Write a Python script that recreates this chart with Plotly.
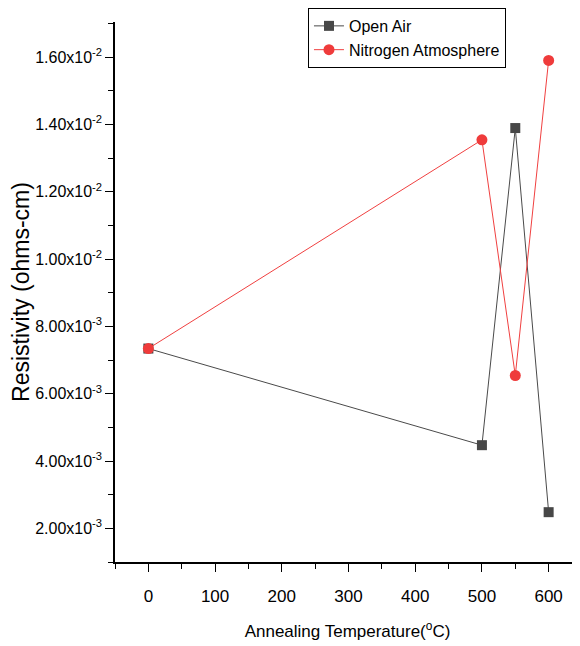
import plotly.graph_objects as go

temps = [0, 500, 550, 600]
open_air = [7.34e-3, 4.47e-3, 13.89e-3, 2.48e-3]
nitrogen = [7.34e-3, 13.54e-3, 6.54e-3, 15.90e-3]

y_tickvals = [0.002, 0.004, 0.006, 0.008, 0.010, 0.012, 0.014, 0.016]
y_ticktext = ["2.00x10<sup>-3</sup>", "4.00x10<sup>-3</sup>", "6.00x10<sup>-3</sup>",
              "8.00x10<sup>-3</sup>", "1.00x10<sup>-2</sup>", "1.20x10<sup>-2</sup>",
              "1.40x10<sup>-2</sup>", "1.60x10<sup>-2</sup>"]
y_minor = [0.001, 0.003, 0.005, 0.007, 0.009, 0.011, 0.013, 0.015, 0.017]
x_tickvals = [0, 100, 200, 300, 400, 500, 600]
x_minor = [-50, 50, 150, 250, 350, 450, 550, 650]

FONT = "Liberation Sans, Arial, sans-serif"

fig = go.Figure()
fig.add_trace(go.Scatter(
    x=temps, y=open_air, name="Open Air", mode="lines+markers",
    line=dict(color="#4a4a4a", width=1),
    marker=dict(symbol="square", size=10, color="#474747"),
))
fig.add_trace(go.Scatter(
    x=temps, y=nitrogen, name="Nitrogen Atmosphere", mode="lines+markers",
    line=dict(color="#f04040", width=1),
    marker=dict(symbol="circle", size=11, color="#ef3b3b"),
))

fig.update_layout(
    width=580, height=646,
    margin=dict(l=107, r=8, t=14, b=92, autoexpand=False),
    paper_bgcolor="white", plot_bgcolor="white",
    font=dict(family=FONT, size=16, color="black"),
    showlegend=True,
    legend=dict(
        x=0.415, y=1.026, xanchor="left", yanchor="top",
        bordercolor="black", borderwidth=1, bgcolor="white",
        font=dict(family=FONT, size=16, color="black"),
        tracegroupgap=0, itemwidth=30,
    ),
    xaxis=dict(
        range=[-50, 647], tickmode="array", tickvals=x_tickvals,
        showline=True, linecolor="black", linewidth=2,
        ticks="outside", ticklen=8, tickwidth=1, tickcolor="black",
        minor=dict(tickmode="array", tickvals=x_minor,
                   ticks="outside", ticklen=5, tickcolor="black"),
        showgrid=False, zeroline=False, automargin=False,
        tickfont=dict(size=17), ticklabelstandoff=10,
        title=dict(text="Annealing Temperature(<sup>o</sup>C)", font=dict(size=17), standoff=20),
    ),
    yaxis=dict(
        range=[0.001, 0.01704], tickmode="array", tickvals=y_tickvals, ticktext=y_ticktext,
        showline=True, linecolor="black", linewidth=1.5,
        ticks="outside", ticklen=8, tickwidth=1, tickcolor="black",
        minor=dict(tickmode="array", tickvals=y_minor,
                   ticks="outside", ticklen=5, tickcolor="black"),
        showgrid=False, zeroline=False, automargin=False,
        tickfont=dict(size=16),
        title=dict(text="Resistivity (ohms-cm)", font=dict(size=23), standoff=0),
    ),
)

fig.write_html("out.html")
